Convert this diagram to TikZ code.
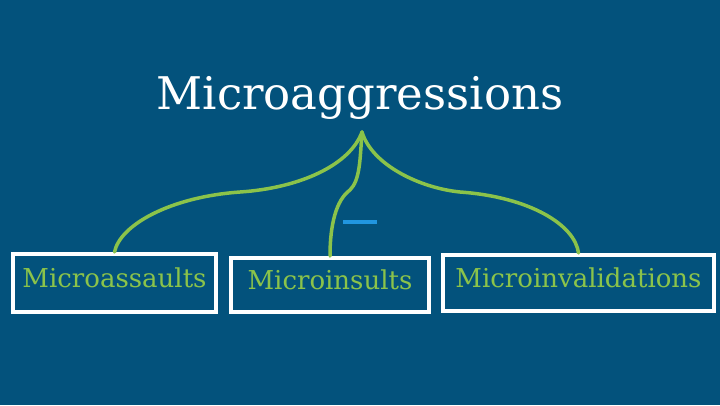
\documentclass[tikz,border=0pt]{standalone}
\usepackage{fontspec}
\setmainfont{DejaVu Serif}
\usepackage{xcolor}
\definecolor{slide-blue}{HTML}{03527C}
\definecolor{leaf-green}{HTML}{8BC34A}
\definecolor{dash-blue}{HTML}{2196E0}
\tikzset{
    category-box/.style = {draw=white, line width=4pt, rectangle, text=leaf-green, font=\fontsize{26}{30}\selectfont, inner sep=0pt, text height=20pt, text depth=12pt},
    title-text/.style = {text=white, font=\fontsize{45}{52}\selectfont},
    branch-line/.style = {draw=leaf-green, line width=3.5pt, line cap=round},
}

\begin{document}
\begin{tikzpicture}[x=1pt, y=-1pt]
\fill[slide-blue] (0,0) rectangle (720,405);
\useasboundingbox (0,0) rectangle (720,405);
\node[title-text] (title) at (360,98) {Microaggressions};
\coordinate (apex) at (362,132);
\node[category-box, minimum width=203pt, minimum height=58pt] (assaults) at (114.5,283) {Microassaults};
\node[category-box, minimum width=198pt, minimum height=54pt] (insults) at (330,285) {Microinsults};
\node[category-box, minimum width=271pt, minimum height=56pt] (invalidations) at (578.5,283) {Microinvalidations};
% the three branches
\draw[branch-line] (apex) .. controls (350,165) and (300,188) .. (240,192) .. controls (170,197) and (120,225) .. (assaults.north);
\draw[branch-line] (apex) .. controls (360,160) and (360,180) .. (350,190) .. controls (336,200) and (330,225) .. (insults.north);
\draw[branch-line] (apex) .. controls (372,165) and (420,188) .. (460,192) .. controls (530,197) and (575,225) .. (invalidations.north);
\draw[dash-blue, line width=4pt] (343,222) -- (377,222);
\end{tikzpicture}
\end{document}
